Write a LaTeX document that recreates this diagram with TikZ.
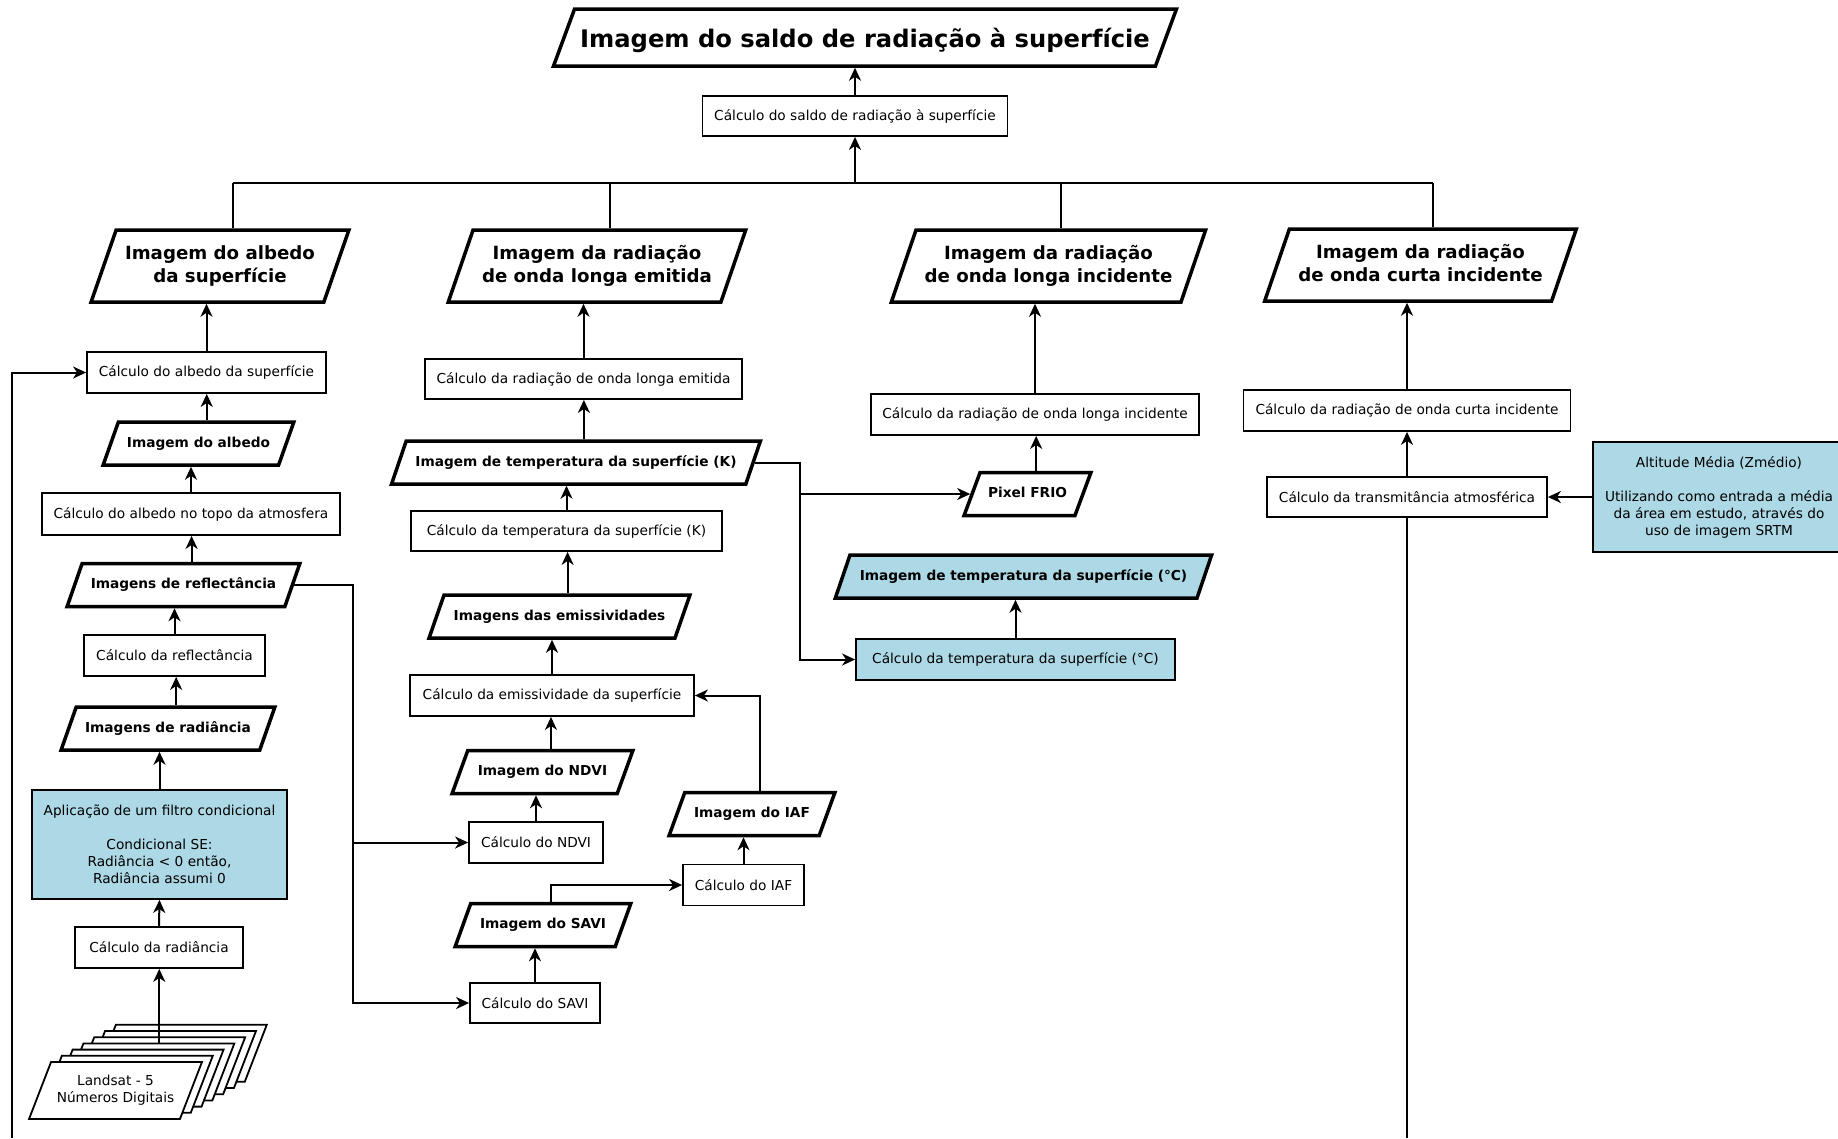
\documentclass[tikz,border=0pt]{standalone}
\usepackage{fontspec}
\setmainfont{DejaVu Sans}
\usepackage{xcolor}
\usepackage{tikz}
\usetikzlibrary{shapes.geometric,arrows.meta}
\definecolor{boxblue}{RGB}{173,216,230}
\newcommand{\boxfont}{\fontsize{13.7}{17}\selectfont}
\newcommand{\headfont}{\fontsize{18.2}{23.5}\selectfont\bfseries}
\newcommand{\titlefont}{\fontsize{24.2}{29}\selectfont\bfseries}
\tikzset{
  pbox/.style={rectangle, draw=black, fill=white, line width=1.8pt, align=center, font=\boxfont, inner sep=2pt},
  pboxblue/.style={pbox, fill=boxblue},
  pimg/.style={trapezium, trapezium left angle=72, trapezium right angle=108, trapezium stretches=true, draw=black, fill=white, line width=3.5pt, align=center, font=\boxfont\bfseries, inner xsep=2pt, inner ysep=14.5pt, text height=10.5pt, text depth=3.5pt},
  pimgblue/.style={pimg, fill=boxblue},
  pimghead/.style={pimg, font=\headfont, inner ysep=2pt, text height=50.5pt, text depth=17.5pt},
  pimgtitle/.style={pimg, font=\titlefont, trapezium left angle=70, trapezium right angle=110, inner ysep=2pt, text height=36.4pt, text depth=16.6pt},
  pstack/.style={pimg, line width=1.8pt, font=\boxfont, trapezium left angle=70, trapezium right angle=110, inner ysep=2pt, text height=38.6pt, text depth=14.4pt},
  parrow/.style={-{Stealth[length=13pt, width=12pt, inset=4pt]}, line width=2pt},
  pline/.style={line width=2pt}
}

\begin{document}
\begin{tikzpicture}[x=1pt, y=-1pt]
\useasboundingbox (0,0) rectangle (1838,1138);
\node[pimgtitle, minimum width=626pt] (tSaldo) at (865,37.5) {Imagem do saldo de radiação à superfície};
\node[pbox, minimum width=305pt, minimum height=40pt] (cSaldo) at (855,116) {Cálculo do saldo de radiação à superfície};
\coordinate (bus) at (855,183);

\node[pimghead, minimum width=258pt] (iAlbSup) at (220,266) {Imagem do albedo\\da superfície};
\node[pimghead, minimum width=298pt] (iLEm) at (597,266) {Imagem da radiação\\de onda longa emitida};
\node[pimghead, minimum width=315pt] (iLInc) at (1048.5,266) {Imagem da radiação\\de onda longa incidente};
\node[pimghead, minimum width=313pt] (iCInc) at (1420.5,265) {Imagem da radiação\\de onda curta incidente};

\node[pbox, minimum width=239pt, minimum height=41pt] (cA) at (206.5,372.5) {Cálculo do albedo da superfície};
\node[pimg, minimum width=191pt] (iAlb) at (198.5,443.5) {Imagem do albedo};
\node[pbox, minimum width=298pt, minimum height=42pt] (cTopo) at (191,514) {Cálculo do albedo no topo da atmosfera};
\node[pimg, minimum width=233pt] (iRefl) at (183.5,585) {Imagens de reflectância};
\node[pbox, minimum width=181pt, minimum height=41pt] (cRefl) at (174.5,655.5) {Cálculo da reflectância};
\node[pimg, minimum width=214pt] (iRad) at (168,728.5) {Imagens de radiância};
\node[pboxblue, minimum width=255pt, minimum height=109pt] (cFiltro) at (159.5,844.5) {Aplicação de um filtro condicional\\[17pt]Condicional SE:\\Radiância < 0 então,\\Radiância assumi 0};
\node[pbox, minimum width=168pt, minimum height=41pt] (cRadi) at (159,947.5) {Cálculo da radiância};
\foreach \i in {6,5,...,1}
  \node[pstack, minimum width=173pt] (ls\i) at ({115.5+10.8*\i},{1090.5-6.2*\i}) {\phantom{Landsat - 5}\\\phantom{Números Digitais}};
\node[pstack, minimum width=173pt] (ls0) at (115.5,1090.5) {Landsat - 5\\Números Digitais};

\node[pbox, minimum width=317pt, minimum height=40pt] (cLE) at (583.5,379) {Cálculo da radiação de onda longa emitida};
\node[pimg, minimum width=370pt] (iTK) at (576,462.5) {Imagem de temperatura da superfície (K)};
\node[pbox, minimum width=311pt, minimum height=40pt] (cTK) at (566.5,531) {Cálculo da temperatura da superfície (K)};
\node[pimg, minimum width=261pt] (iEmis) at (559.5,616.5) {Imagens das emissividades};
\node[pbox, minimum width=284pt, minimum height=41pt] (cEmis) at (552,695.5) {Cálculo da emissividade da superfície};
\node[pimg, minimum width=181pt] (iNDVI) at (542.5,772) {Imagem do NDVI};
\node[pbox, minimum width=134pt, minimum height=41pt] (cNDVI) at (536,842.5) {Cálculo do NDVI};
\node[pimg, minimum width=176pt] (iSAVI) at (543,925) {Imagem do SAVI};
\node[pbox, minimum width=130pt, minimum height=40pt] (cSAVI) at (535,1003) {Cálculo do SAVI};
\node[pimg, minimum width=166pt] (iIAF) at (752,814) {Imagem do IAF};
\node[pbox, minimum width=121pt, minimum height=41pt] (cIAF) at (743.5,885) {Cálculo do IAF};

\node[pbox, minimum width=328pt, minimum height=41pt] (cLI) at (1035,414.5) {Cálculo da radiação de onda longa incidente};
\node[pimg, minimum width=127pt] (iFrio) at (1027.5,494) {Pixel FRIO};
\node[pimgblue, minimum width=377pt] (iTC) at (1023.5,576.5) {Imagem de temperatura da superfície (°C)};
\node[pboxblue, minimum width=319pt, minimum height=41pt] (cTC) at (1015.5,659.5) {Cálculo da temperatura da superfície (°C)};

\node[pbox, minimum width=327pt, minimum height=41pt] (cCI) at (1407,410.5) {Cálculo da radiação de onda curta incidente};
\node[pbox, minimum width=280pt, minimum height=40pt] (cTrans) at (1407,497) {Cálculo da transmitância atmosférica};
\node[pboxblue, minimum width=252pt, minimum height=110pt] (cAlt) at (1719,497) {Altitude Média (Zmédio)\\[17pt]Utilizando como entrada a média\\da área em estudo, através do\\uso de imagem SRTM};

\coordinate (fbIn) at (12,1138);
\coordinate (rBend) at (353,0);
\coordinate (tBend) at (800,0);
\coordinate (trOut) at (1407,1138);

\draw[parrow] (cSaldo.north) -- (cSaldo.north |- tSaldo.south);
\draw[parrow] (bus) -- (cSaldo.south);
\draw[pline] (iAlbSup.top side |- bus) -- (iCInc.top side |- bus);
\foreach \n in {iAlbSup,iLEm,iLInc,iCInc}
  \draw[pline] (\n.top side) -- (\n.top side |- bus);
\draw[parrow] (cA.north) -- (cA.north |- iAlbSup.south);
\draw[parrow] (cLE.north) -- (cLE.north |- iLEm.south);
\draw[parrow] (cLI.north) -- (cLI.north |- iLInc.south);
\draw[parrow] (cCI.north) -- (cCI.north |- iCInc.south);

\draw[parrow] (iAlb.top side) -- (iAlb.top side |- cA.south);
\draw[parrow] (cTopo.north) -- (cTopo.north |- iAlb.south);
\draw[parrow] (iRefl.top side) -- (iRefl.top side |- cTopo.south);
\draw[parrow] (cRefl.north) -- (cRefl.north |- iRefl.south);
\draw[parrow] (iRad.top side) -- (iRad.top side |- cRefl.south);
\draw[parrow] (cFiltro.north) -- (cFiltro.north |- iRad.south);
\draw[parrow] (cRadi.north) -- (cFiltro.south);
\draw[parrow] (ls3.top side) -- (ls3.top side |- cRadi.south);
\draw[parrow] (fbIn) |- (cA.west);
\draw[parrow] (iRefl.right side) -- (iRefl.right side -| rBend) |- (cNDVI.west);
\draw[parrow] (iRefl.right side -| rBend) |- (cSAVI.west);

\draw[parrow] (iTK.top side) -- (iTK.top side |- cLE.south);
\draw[parrow] (cTK.north) -- (cTK.north |- iTK.south);
\draw[parrow] (iEmis.top side) -- (iEmis.top side |- cTK.south);
\draw[parrow] (cEmis.north) -- (cEmis.north |- iEmis.south);
\draw[parrow] (iNDVI.top side) -- (iNDVI.top side |- cEmis.south);
\draw[parrow] (cNDVI.north) -- (cNDVI.north |- iNDVI.south);
\draw[parrow] (cSAVI.north) -- (cSAVI.north |- iSAVI.south);
\draw[parrow] (iSAVI.top side) |- (cIAF.west);
\draw[parrow] (cIAF.north) -- (cIAF.north |- iIAF.south);
\draw[parrow] (iIAF.top side) |- (cEmis.east);

\draw[parrow] (iTK.right side) -- (iTK.right side -| tBend) |- (iFrio.left side);
\draw[parrow] (iTK.right side -| tBend) |- (cTC.west);
\draw[parrow] (iFrio.top side) -- (iFrio.top side |- cLI.south);
\draw[parrow] (cTC.north) -- (cTC.north |- iTC.south);

\draw[parrow] (cTrans.north) -- (cCI.south);
\draw[parrow] (cAlt.west) -- (cTrans.east);
\draw[pline] (cTrans.south) -- (trOut);
\end{tikzpicture}
\end{document}
